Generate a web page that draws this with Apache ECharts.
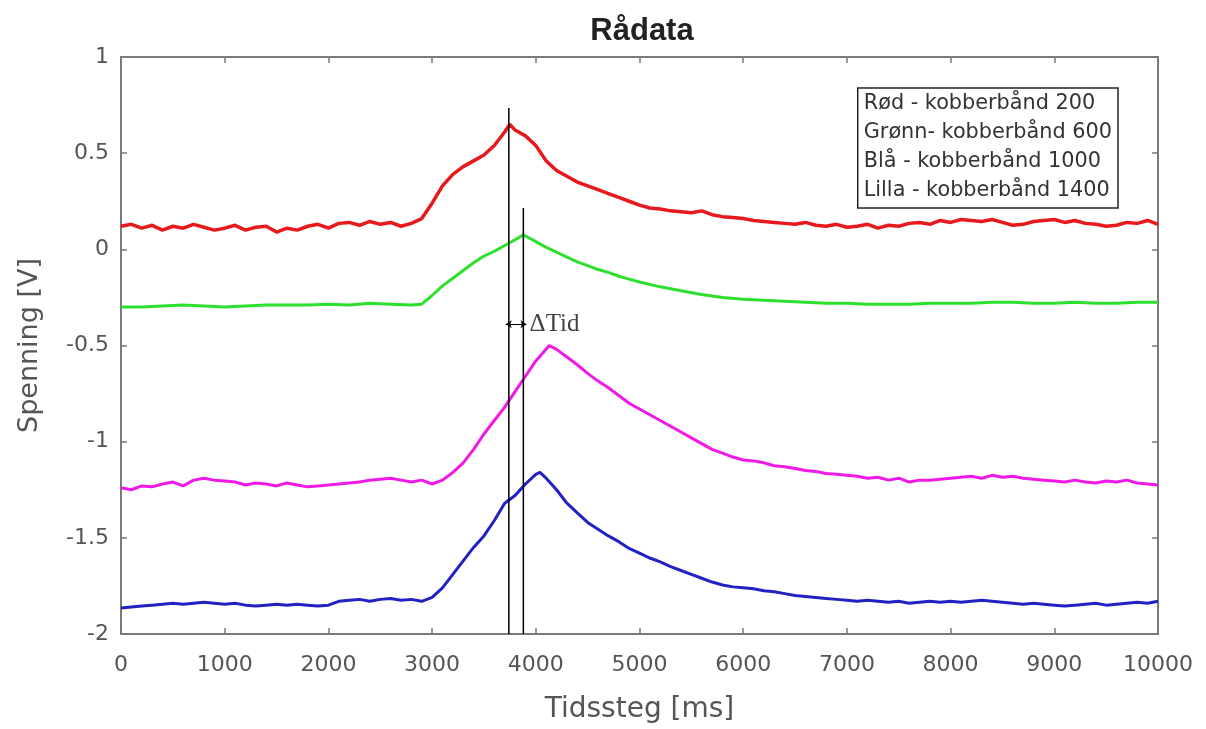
<!DOCTYPE html>
<html>
<head>
<meta charset="utf-8">
<script src="https://cdn.jsdelivr.net/npm/echarts@6/dist/echarts.min.js"></script>
<style>
  html, body { margin: 0; padding: 0; background: #fff; }
  #chart { width: 1206px; height: 729px; }
</style>
</head>
<body>
<div id="chart"></div>
<script>
// ---- Data (time in ms, voltage in V) ----
const legendNames = ['Rød - kobberbånd 200', 'Grønn- kobberbånd 600', 'Blå - kobberbånd 1000', 'Lilla - kobberbånd 1400'];

const rod = [
  [0,.12],[100,.13],[200,.11],[300,.125],[400,.10],[500,.12],[600,.11],[700,.13],[800,.115],[900,.10],
  [1000,.11],[1100,.125],[1200,.10],[1300,.115],[1400,.12],[1500,.09],[1600,.11],[1700,.10],[1800,.12],[1900,.13],
  [2000,.11],[2100,.135],[2200,.14],[2300,.125],[2400,.145],[2500,.13],[2600,.14],[2700,.12],[2800,.135],[2900,.16],
  [3000,.24],[3100,.33],[3200,.39],[3300,.43],[3400,.46],[3500,.49],[3600,.54],[3700,.61],[3750,.65],[3800,.62],[3900,.59],
  [4000,.54],[4100,.46],[4200,.41],[4300,.38],[4400,.35],[4500,.33],[4600,.31],[4700,.29],[4800,.27],[4900,.25],
  [5000,.23],[5100,.215],[5200,.21],[5300,.20],[5400,.195],[5500,.19],[5600,.20],[5700,.18],[5800,.17],[5900,.165],
  [6000,.16],[6100,.15],[6200,.145],[6300,.14],[6400,.135],[6500,.13],[6600,.14],[6700,.125],[6800,.12],[6900,.13],
  [7000,.115],[7100,.12],[7200,.13],[7300,.11],[7400,.125],[7500,.12],[7600,.135],[7700,.14],[7800,.13],[7900,.15],
  [8000,.14],[8100,.155],[8200,.15],[8300,.145],[8400,.155],[8500,.14],[8600,.125],[8700,.13],[8800,.145],[8900,.15],
  [9000,.155],[9100,.14],[9200,.15],[9300,.135],[9400,.13],[9500,.12],[9600,.125],[9700,.14],[9800,.135],[9900,.15],[10000,.13]
];

const gronn = [
  [0,-.30],[200,-.30],[400,-.295],[600,-.29],[800,-.295],[1000,-.30],[1200,-.295],[1400,-.29],[1600,-.29],[1800,-.29],
  [2000,-.285],[2200,-.29],[2400,-.28],[2600,-.285],[2800,-.29],[2900,-.285],[3000,-.24],[3100,-.19],[3200,-.15],
  [3300,-.11],[3400,-.07],[3500,-.035],[3600,-.01],[3700,.02],[3800,.05],[3880,.075],[3950,.055],[4000,.04],
  [4100,.01],[4200,-.015],[4300,-.04],[4400,-.065],[4500,-.085],[4600,-.105],[4700,-.12],[4800,-.14],[4900,-.155],
  [5000,-.17],[5200,-.195],[5400,-.215],[5600,-.235],[5800,-.25],[6000,-.26],[6200,-.265],[6400,-.27],[6600,-.275],
  [6800,-.28],[7000,-.28],[7200,-.285],[7400,-.285],[7600,-.285],[7800,-.28],[8000,-.28],[8200,-.28],[8400,-.275],
  [8600,-.275],[8800,-.28],[9000,-.28],[9200,-.275],[9400,-.28],[9600,-.28],[9800,-.275],[10000,-.275]
];

const bla = [
  [0,-1.865],[100,-1.86],[200,-1.855],[300,-1.85],[400,-1.845],[500,-1.84],[600,-1.845],[700,-1.84],[800,-1.835],[900,-1.84],
  [1000,-1.845],[1100,-1.84],[1200,-1.85],[1300,-1.855],[1400,-1.85],[1500,-1.845],[1600,-1.85],[1700,-1.845],[1800,-1.85],[1900,-1.855],
  [2000,-1.85],[2100,-1.83],[2200,-1.825],[2300,-1.82],[2400,-1.83],[2500,-1.82],[2600,-1.815],[2700,-1.825],[2800,-1.82],[2900,-1.83],
  [3000,-1.81],[3100,-1.76],[3200,-1.69],[3300,-1.62],[3400,-1.55],[3500,-1.49],[3600,-1.41],[3700,-1.32],[3800,-1.28],[3900,-1.22],
  [4000,-1.17],[4040,-1.16],[4100,-1.19],[4200,-1.25],[4300,-1.32],[4400,-1.37],[4500,-1.42],[4600,-1.455],[4700,-1.49],[4800,-1.52],[4900,-1.555],
  [5000,-1.58],[5100,-1.605],[5200,-1.625],[5300,-1.65],[5400,-1.67],[5500,-1.69],[5600,-1.71],[5700,-1.73],[5800,-1.745],[5900,-1.755],
  [6000,-1.76],[6100,-1.765],[6200,-1.775],[6300,-1.78],[6400,-1.79],[6500,-1.80],[6600,-1.805],[6700,-1.81],[6800,-1.815],[6900,-1.82],
  [7000,-1.825],[7100,-1.83],[7200,-1.825],[7300,-1.83],[7400,-1.835],[7500,-1.83],[7600,-1.84],[7700,-1.835],[7800,-1.83],[7900,-1.835],
  [8000,-1.83],[8100,-1.835],[8200,-1.83],[8300,-1.825],[8400,-1.83],[8500,-1.835],[8600,-1.84],[8700,-1.845],[8800,-1.84],[8900,-1.845],
  [9000,-1.85],[9100,-1.855],[9200,-1.85],[9300,-1.845],[9400,-1.84],[9500,-1.85],[9600,-1.845],[9700,-1.84],[9800,-1.835],[9900,-1.84],[10000,-1.83]
];

const lilla = [
  [0,-1.24],[100,-1.25],[200,-1.23],[300,-1.235],[400,-1.22],[500,-1.21],[600,-1.23],[700,-1.20],[800,-1.19],[900,-1.20],
  [1000,-1.205],[1100,-1.21],[1200,-1.225],[1300,-1.215],[1400,-1.22],[1500,-1.23],[1600,-1.215],[1700,-1.225],[1800,-1.235],[1900,-1.23],
  [2000,-1.225],[2100,-1.22],[2200,-1.215],[2300,-1.21],[2400,-1.20],[2500,-1.195],[2600,-1.19],[2700,-1.20],[2800,-1.21],[2900,-1.20],
  [3000,-1.22],[3100,-1.20],[3200,-1.16],[3300,-1.11],[3400,-1.04],[3500,-0.96],[3600,-0.89],[3700,-0.82],[3800,-0.74],[3900,-0.66],
  [4000,-0.58],[4130,-0.50],[4200,-0.52],[4300,-0.56],[4400,-0.60],[4500,-0.645],[4600,-0.685],[4700,-0.72],[4800,-0.76],[4900,-0.80],
  [5000,-0.83],[5100,-0.86],[5200,-0.89],[5300,-0.92],[5400,-0.95],[5500,-0.98],[5600,-1.01],[5700,-1.04],[5800,-1.06],[5900,-1.08],
  [6000,-1.095],[6100,-1.10],[6200,-1.11],[6300,-1.125],[6400,-1.13],[6500,-1.14],[6600,-1.15],[6700,-1.155],[6800,-1.165],[6900,-1.17],
  [7000,-1.175],[7100,-1.18],[7200,-1.19],[7300,-1.185],[7400,-1.20],[7500,-1.19],[7600,-1.21],[7700,-1.20],[7800,-1.20],[7900,-1.195],
  [8000,-1.19],[8100,-1.185],[8200,-1.18],[8300,-1.19],[8400,-1.175],[8500,-1.185],[8600,-1.18],[8700,-1.19],[8800,-1.195],[8900,-1.20],
  [9000,-1.205],[9100,-1.21],[9200,-1.20],[9300,-1.21],[9400,-1.215],[9500,-1.205],[9600,-1.21],[9700,-1.20],[9800,-1.215],[9900,-1.22],[10000,-1.225]
];

// Annotation: the two vertical time markers and the ΔTid label
const markerTimes = [3740, 3880];
const markerTops = [0.735, 0.215];
const deltaY = -0.39;
const deltaLabel = 'ΔTid';

// ---- Chart ----
const chart = echarts.init(document.getElementById('chart'), null, { renderer: 'canvas' });
const axisGray = '#7a7a7a';
const labelGray = '#555555';
const sansFont = '"DejaVu Sans", sans-serif';

function frameAxis(base) { return Object.assign({
  type: 'value',
  axisLine: { show: true, onZero: false, lineStyle: { color: axisGray, width: 2 } },
  axisTick: { show: true, inside: true, length: 6, lineStyle: { color: axisGray, width: 1.5 } },
  splitLine: { show: false }
}, base); }

const lineSeries = (name, data, color, width) => ({
  name, type: 'line', data, showSymbol: false, symbol: 'none', smooth: false,
  lineStyle: { color, width }, itemStyle: { color }, z: 3, animation: false
});

const option = {
  animation: false,
  backgroundColor: '#ffffff',
  title: {
    text: 'Rådata', left: 637, textAlign: 'center', top: 11,
    textStyle: { fontFamily: '"Liberation Sans", Arial, sans-serif', fontWeight: 'bold', fontSize: 31, color: '#222' }
  },
  grid: { left: 121, right: 48, top: 57, bottom: 95, containLabel: false, outerBoundsMode: 'none' },
  legend: {
    data: legendNames, orient: 'vertical', right: 88, top: 88,
    icon: 'none', itemWidth: 0, itemHeight: 10, itemGap: 8,
    selectedMode: false,
    backgroundColor: '#fff', borderColor: '#222', borderWidth: 1.5, borderRadius: 0,
    padding: [5, 6, 7, 1],
    textStyle: { fontFamily: '"DejaVu Sans", sans-serif', fontSize: 20.8, lineHeight: 20, color: '#333', padding: 0 }
  },
  xAxis: [
    frameAxis({
      min: 0, max: 10000, interval: 1000, position: 'bottom',
      name: 'Tidssteg [ms]', nameLocation: 'middle', nameGap: 62,
      nameTextStyle: { fontFamily: sansFont, fontSize: 28, color: '#555' },
      axisLabel: { show: true, margin: 20, fontFamily: sansFont, fontSize: 22, color: labelGray,
                   formatter: v => String(v) }
    }),
    frameAxis({ min: 0, max: 10000, interval: 1000, position: 'top', axisLabel: { show: false } })
  ],
  yAxis: [
    frameAxis({
      min: -2, max: 1, interval: 0.5, position: 'left',
      name: 'Spenning [V]', nameLocation: 'middle', nameGap: 78,
      nameTextStyle: { fontFamily: sansFont, fontSize: 27, color: '#555' },
      axisLabel: { show: true, margin: 12, fontFamily: sansFont, fontSize: 22, color: labelGray,
                   formatter: v => String(v) }
    }),
    frameAxis({ min: -2, max: 1, interval: 0.5, position: 'right', axisLabel: { show: false } })
  ],
  series: [
    lineSeries(legendNames[0], rod, '#e8191c', 3.5),
    lineSeries(legendNames[1], gronn, '#2ee02e', 3),
    lineSeries(legendNames[2], bla, '#2222c4', 3),
    lineSeries(legendNames[3], lilla, '#ef1ae8', 3),
    {
      name: 'marker1', type: 'line', showSymbol: false, symbol: 'none',
      data: [[markerTimes[0], -2], [markerTimes[0], markerTops[0]]],
      lineStyle: { color: '#000', width: 1.5 }, z: 5, silent: true
    },
    {
      name: 'marker2', type: 'line', showSymbol: false, symbol: 'none',
      data: [[markerTimes[1], -2], [markerTimes[1], markerTops[1]]],
      lineStyle: { color: '#000', width: 1.5 }, z: 5, silent: true,
      markLine: {
        silent: true, symbol: ['arrow', 'arrow'], symbolSize: [6, 6],
        lineStyle: { color: '#000', width: 1, type: 'solid' }, label: { show: false },
        data: [[{ coord: [markerTimes[0] - 30, deltaY] }, { coord: [markerTimes[1] + 30, deltaY] }]]
      }
    },
    {
      name: 'delta', type: 'scatter', symbolSize: 0, silent: true,
      data: [[markerTimes[1] + 60, deltaY]],
      label: {
        show: true, position: 'right', distance: 0, formatter: deltaLabel,
        fontFamily: '"Liberation Serif", "Times New Roman", serif', fontSize: 25, color: '#111'
      }, z: 6
    }
  ]
};
chart.setOption(option);
</script>
</body>
</html>
